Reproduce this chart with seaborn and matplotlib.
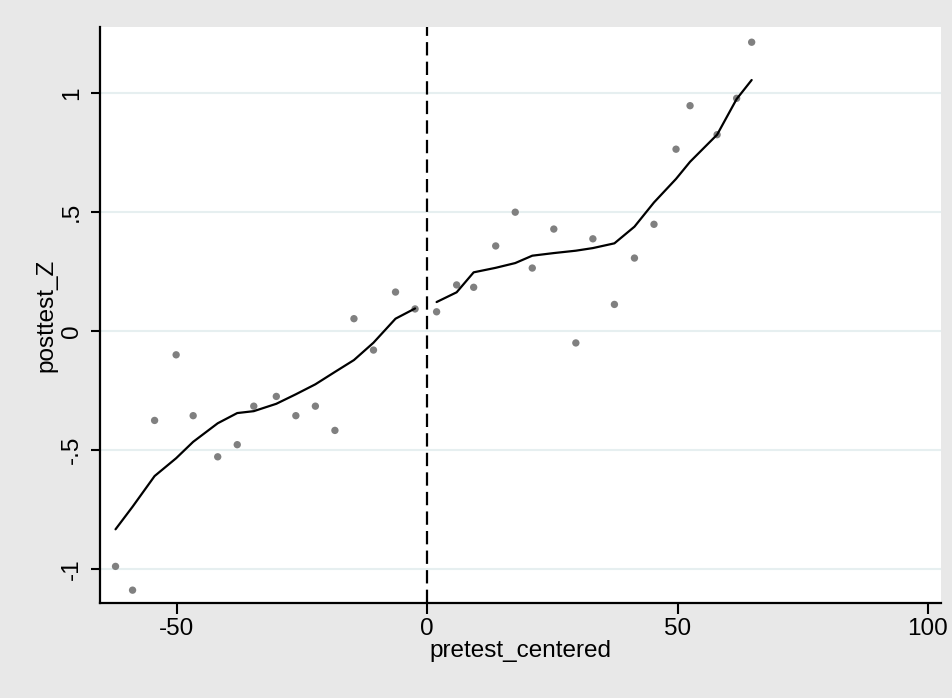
import numpy as np
import pandas as pd
import matplotlib
matplotlib.use("Agg")
import matplotlib.pyplot as plt
import seaborn as sns

pre_left = [-62.2, -58.8, -54.4, -50.1, -46.7, -41.8, -37.9, -34.6,
            -30.1, -26.2, -22.3, -18.4, -14.6, -10.7, -6.3, -2.4]
post_left = [-0.99, -1.09, -0.376, -0.10, -0.356, -0.529, -0.478, -0.316,
             -0.275, -0.356, -0.316, -0.418, 0.052, -0.080, 0.164, 0.093]
fit_left = [-0.834, -0.739, -0.610, -0.535, -0.466, -0.388, -0.345, -0.337,
            -0.306, -0.266, -0.224, -0.172, -0.122, -0.049, 0.052, 0.095]

pre_right = [1.9, 5.9, 9.3, 13.7, 17.6, 21.0, 25.3, 29.7, 33.1, 37.4,
             41.4, 45.3, 49.7, 52.5, 57.9, 61.8, 64.8]
post_right = [0.081, 0.194, 0.184, 0.358, 0.50, 0.265, 0.429, -0.050, 0.388,
              0.112, 0.307, 0.449, 0.765, 0.948, 0.826, 0.979, 1.215]
fit_right = [0.122, 0.163, 0.247, 0.266, 0.286, 0.317, 0.328, 0.338, 0.349,
             0.369, 0.439, 0.541, 0.640, 0.712, 0.826, 0.976, 1.056]

x_ticks = [-50, 0, 50, 100]
y_ticks = [-1, -0.5, 0, 0.5, 1]
y_labels = ["-1", "-.5", "0", ".5", "1"]

pts = pd.DataFrame({"pretest_centered": pre_left + pre_right,
                    "posttest_Z": post_left + post_right})
left = pd.DataFrame({"x": pre_left, "y": fit_left})
right = pd.DataFrame({"x": pre_right, "y": fit_right})

sns.set_style("white")
plt.rcParams["font.family"] = ["Liberation Sans", "DejaVu Sans"]
plt.rcParams["text.color"] = "black"
plt.rcParams["axes.labelcolor"] = "black"
fs = 17.5

fig = plt.figure(figsize=(9.52, 6.98), dpi=100)
fig.patch.set_facecolor("#e8e8e8")
ax = fig.add_axes([100 / 952, 1 - 603 / 698, 841 / 952, 576 / 698])
ax.set_facecolor("white")

# light horizontal grid
for yt in y_ticks:
    ax.axhline(yt, color="#e6eff0", lw=1.5, zorder=0)

sns.scatterplot(data=pts, x="pretest_centered", y="posttest_Z", ax=ax,
                color="#808080", s=28, edgecolor="none", zorder=3)
sns.lineplot(data=left, x="x", y="y", ax=ax, color="black", lw=1.6,
             sort=False, zorder=4)
sns.lineplot(data=right, x="x", y="y", ax=ax, color="black", lw=1.6,
             sort=False, zorder=4)
ax.axvline(0, color="black", lw=1.6, dashes=(6, 2.8), zorder=2)

ax.set_xlim(-65.3, 102.6)
ax.set_ylim(-1.144, 1.279)
ax.set_xticks(x_ticks)
ax.set_xticklabels([str(v) for v in x_ticks])
ax.set_yticks(y_ticks)
ax.set_yticklabels(y_labels, rotation=90, va="center")

for s in ["top", "right"]:
    ax.spines[s].set_visible(False)
for s in ["left", "bottom"]:
    ax.spines[s].set_color("black")
    ax.spines[s].set_linewidth(1.6)

ax.tick_params(axis="x", bottom=True, direction="out", length=8, width=1.5,
               color="black", labelcolor="black", labelsize=fs, pad=3)
ax.tick_params(axis="y", left=True, direction="out", length=6.5, width=1.5,
               color="black", labelcolor="black", labelsize=fs, pad=6)

ax.set_xlabel("pretest_centered", fontsize=fs, labelpad=0)
ax.set_ylabel("posttest_Z", fontsize=fs, labelpad=2.5)

fig.savefig("out.png", dpi=100, facecolor=fig.get_facecolor())
